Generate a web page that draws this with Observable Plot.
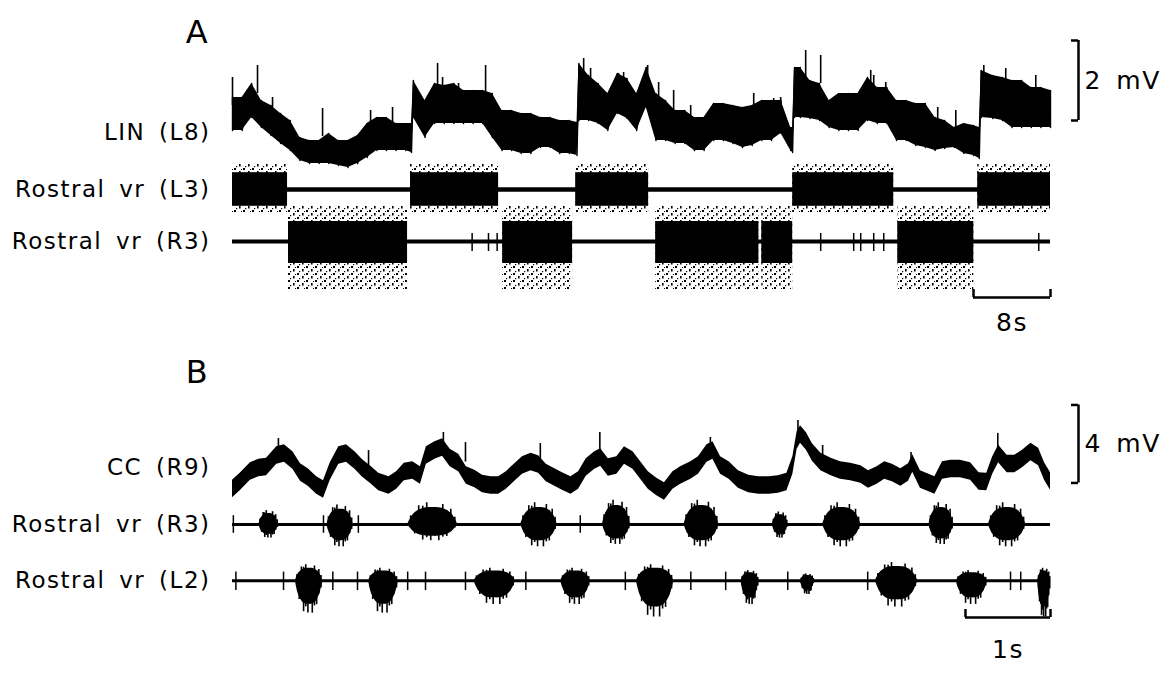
<!DOCTYPE html>
<html><head><meta charset="utf-8">
<script src="https://cdn.jsdelivr.net/npm/d3@7"></script>
<script src="https://cdn.jsdelivr.net/npm/@observablehq/plot@0.6"></script>
<style>
html,body{margin:0;padding:0;background:#fff;overflow:hidden;}
#chart{width:1174px;height:682px;}
#chart svg{display:block;}
</style></head>
<body><div id="chart"></div>
<script>
// ---------------- DATA: panel A (time in s, potential in mV) ----------------
const panelALabels = ["LIN (L8)", "Rostral vr (L3)", "Rostral vr (R3)"];
const linTime = [0,1,2,3,4,5,6,7,8,9, 10,11,12,13,14,15,16,17,18,18.6, 18.8,20,21,22,23,24,25,26,27,28,
  29,30,31,32,33,34,35,35.8,36,37, 38,39,40,41,42,43,44,45,46,47, 48,49,50,51,52,53,54,55,56,57,
  58,58.2,58.4,59,60,61,62,63,64,65, 66,67,68,69,70,71,72,73,74,75, 76,77,77.6,77.8,79,80,81,82,83,84, 85];
const linHigh = [1.575,1.575,1.925,1.5,1.375,1.175,1.0,0.575,0.5,0.5,
  0.675,0.5,0.5,0.625,0.925,1.075,1.075,0.925,0.925,0.925,
  2.0,1.5,1.925,1.875,1.925,1.75,1.75,1.75,1.675,1.25,
  1.25,1.175,1.175,1.075,1.075,1.0,1.0,0.95,2.425,2.125,
  1.925,1.675,2.175,2.05,1.675,2.325,1.675,1.5,1.25,1.25,
  1.075,1.075,1.425,1.425,1.375,1.325,1.375,1.5,1.5,1.5,
  0.825,0.825,2.325,2.325,2.0,1.925,1.5,1.675,1.675,1.675,
  2.075,1.825,1.825,1.5,1.5,1.425,1.425,1.075,1.0,0.825,
  0.925,0.875,0.825,2.25,2.125,2.075,2.0,2.0,1.825,1.825,
  1.75];
const linLow = [0.75,0.75,1.075,0.825,0.625,0.425,0.25,0.0,-0.075,-0.075,
  -0.075,-0.125,-0.175,-0.075,0.075,0.25,0.25,0.25,0.25,0.2,
  1.075,0.575,0.925,0.925,0.925,0.925,0.925,0.925,0.575,0.25,
  0.25,0.175,0.175,0.325,0.325,0.175,0.175,0.125,1.0,1.0,
  0.925,0.75,1.175,1.05,0.75,1.325,0.5,0.5,0.425,0.425,
  0.25,0.25,0.5,0.5,0.425,0.325,0.375,0.5,0.5,0.675,
  0.25,0.2,1.075,1.075,1.05,1.0,0.825,0.75,0.75,0.75,
  1.0,0.925,0.925,0.5,0.5,0.375,0.325,0.25,0.3,0.325,
  0.175,0.125,0.05,1.075,1.05,1.0,0.825,0.825,0.825,0.825,
  0.825];
const linSpikeTime = [0,2.6,4.16,9.36,14.35,16.63,21.31,21.83,23.49,26.3,36.49,37.21,40.12,40.64,43.14,44.28,45.84,47.61,
  54.16,56.24,56.96,59.56,61.12,66.32,66.63,67.88,73.28,75.16,78.07,80.35,83.47];
const linSpikeTop = [2.075,2.375,1.575,1.3,1.25,1.325,2.425,2.075,1.925,2.375,2.55,2.3,2.175,2.2,2.375,1.95,1.75,1.375,
  1.675,1.55,1.575,2.75,2.625,2.25,2.125,1.95,1.325,1.25,2.375,2.3,2.125];
const l3BurstStart = [0, 18.5, 35.66, 58.21, 77.44];
const l3BurstEnd   = [5.72, 27.65, 43.24, 68.71, 85];
const r3aBurstStart = [5.82, 28.07, 43.97, 55.0, 69.13];
const r3aBurstEnd   = [18.19, 35.34, 54.7, 58.21, 77.03];
const r3aSpikeTime = [24.9, 26.6, 27.5, 61.12, 64.55, 65.28, 66.63, 67.67, 83.78];
const panelADuration = 85, panelATimeBar = 8, panelAVoltBar = 2;

// ---------------- DATA: panel B ----------------
const panelBLabels = ["CC (R9)", "Rostral vr (R3)", "Rostral vr (L2)"];
const ccTime = [0,0.09,0.21,0.31,0.4,0.52,0.61,0.71,0.8,0.89, 0.99,1.07,1.15,1.25,1.34,1.44,1.53,1.62,1.72,1.84,
  1.93,2.02,2.12,2.21,2.28,2.38,2.47,2.56,2.66,2.75, 2.85,2.94,3.04,3.13,3.22,3.32,3.41,3.51,3.6,3.69,
  3.79,3.88,3.98,4.07,4.16,4.26,4.33,4.42,4.52,4.61, 4.71,4.8,4.89,4.99,5.08,5.18,5.27,5.39,5.48,5.58,
  5.65,5.74,5.84,5.95,6.07,6.19,6.31,6.42,6.52,6.59, 6.64,6.68,6.75,6.82,6.92,7.04,7.15,7.27,7.39,7.48,
  7.58,7.67,7.76,7.86,7.95,8.0,8.09,8.19,8.26,8.35, 8.45,8.56,8.68,8.78,8.87,8.94,9.01,9.11,9.2,9.29,
  9.39,9.48,9.55,9.62];
const ccValue = [0.59,0.95,1.49,1.67,1.72,2.31,2.41,2.05,1.44,1.18, 0.77,0.56,1.49,2.31,2.41,2.05,1.64,1.33,0.95,0.77,
  1.03,1.46,1.54,1.28,2.31,2.56,2.72,2.18,1.92,1.28, 1.10,0.85,0.77,0.77,1.03,1.44,1.79,1.97,1.85,1.41,
  1.18,0.97,0.77,1.03,1.69,2.05,2.21,1.69,1.79,2.31, 2.05,1.54,1.03,0.69,0.46,1.03,1.28,1.54,1.79,2.41,
  2.56,1.79,1.54,1.08,0.85,0.77,0.77,0.82,0.95,1.79, 3.08,3.38,3.03,2.46,1.97,1.72,1.54,1.46,1.33,1.08,
  1.28,1.54,1.41,1.18,1.44,1.90,1.08,0.90,0.77,1.54, 1.62,1.62,1.49,0.97,0.95,1.79,2.38,1.87,1.87,2.13,
  2.49,2.23,1.49,0.97];
const ccSpikeTime = [0.54,1.6,2.48,2.74,3.62,4.32,5.62,6.65,6.94,7.98,9.0];
const ccSpikeTop  = [3.18,2.56,3.49,2.97,2.92,3.49,3.23,4.10,2.82,2.46,3.44];
const r3bBurstStart = [0.31,1.11,2.06,3.39,4.35,5.31,6.35,6.94,8.19,8.89];
const r3bBurstEnd   = [0.54,1.42,2.65,3.82,4.68,5.72,6.53,7.39,8.48,9.33];
const r3bBurstUp    = [0.62,0.87,0.97,0.97,1.08,1.08,0.56,0.97,0.97,0.97];
const r3bBurstDown  = [0.56,0.92,0.67,0.92,0.82,0.92,0.56,0.92,0.82,0.92];
const r3bSpikeTime  = [0.01,1.07,1.48,4.09];
const l2BurstStart = [0.74,1.6,2.84,3.86,4.75,5.98,6.68,7.56,8.51,9.47];
const l2BurstEnd   = [1.06,1.95,3.33,4.21,5.19,6.19,6.84,8.06,8.88,9.62];
const l2BurstUp    = [0.72,0.56,0.56,0.56,0.72,0.46,0.31,0.82,0.46,0.56];
const l2BurstDown  = [1.33,1.33,0.97,0.97,1.49,0.97,0.56,1.08,0.97,1.49];
const l2SpikeTime  = [0.04,0.6,1.18,1.47,2.06,2.27,2.74,3.45,4.62,5.39,5.8,6.53,7.47,9.15,9.27];
const panelBDuration = 9.62, panelBTimeBar = 1, panelBVoltBar = 4;

// ---------------- LAYOUT ----------------
const W = 1174, H = 341, ML = 232, MR = 124;
const FONT = "DejaVu Sans, Verdana, sans-serif";
const txt = {fontFamily: FONT, fontSize: 23, fill: "black"};
const rowA = [0.7, -0.725, -2.025];
const rowB = [1.69, -1.23, -4.12];

function makeSpeckle(svg, id) {
  const ns = "http://www.w3.org/2000/svg";
  const defs = document.createElementNS(ns, "defs");
  const p = document.createElementNS(ns, "pattern");
  p.setAttribute("id", id); p.setAttribute("width", "9"); p.setAttribute("height", "7");
  p.setAttribute("patternUnits", "userSpaceOnUse");
  [[0,0,2,2],[5,3,1.6,2.5],[2,5,1.2,1.2],[7,1,1,1]].forEach(([x,y,w,h]) => {
    const r = document.createElementNS(ns, "rect");
    r.setAttribute("x", x); r.setAttribute("y", y); r.setAttribute("width", w); r.setAttribute("height", h);
    r.setAttribute("fill", "black"); p.appendChild(r);
  });
  defs.appendChild(p); svg.insertBefore(defs, svg.firstChild);
}

function timeBar(xEnd, len, yBar, tick, yText, label) {
  return [
    Plot.ruleY([yBar], {x1: xEnd - len, x2: xEnd, strokeWidth: 2.5}),
    Plot.ruleX([xEnd - len, xEnd], {y1: yBar, y2: yBar + tick, strokeWidth: 2.5}),
    Plot.text([label], {x: xEnd - len / 2, y: yText, text: d => d, ...txt, fontSize: 25})
  ];
}
function voltBar(xEnd, pxPerUnit, y0, y1, label) {
  const bx = xEnd + 28 / pxPerUnit, tx = xEnd + 21 / pxPerUnit;
  return [
    Plot.ruleX([bx], {y1: y0, y2: y1, strokeWidth: 2.5}),
    Plot.ruleY([y0, y1], {x1: tx, x2: bx, strokeWidth: 2.5}),
    Plot.text([label], {x: bx, y: (y0 + y1) / 2, dx: 6, text: d => d, textAnchor: "start", ...txt, fontSize: 25})
  ];
}
function labels(names, rows, letter, letterY) {
  return [
    Plot.text(names.map((n, i) => ({n, y: rows[i]})), {x: 0, y: "y", text: "n", textAnchor: "end", dx: -22, ...txt}),
    Plot.text([letter], {x: 0, y: letterY, text: d => d, dx: -35, ...txt, fontSize: 32})
  ];
}

// ---------------- PANEL A ----------------
const lin = linTime.map((t, i) => ({t, hi: linHigh[i], lo: linLow[i]}));
const linSaw = lin.flatMap(d => [{t: d.t, v: d.hi}, {t: d.t, v: d.lo}]);
const linSpikes = linSpikeTime.map((t, i) => ({t, top: linSpikeTop[i]}));
const l3 = l3BurstStart.map((s, i) => ({s, e: l3BurstEnd[i]}));
const r3a = r3aBurstStart.map((s, i) => ({s, e: r3aBurstEnd[i]}));
const pxA = (W - ML - MR) / panelADuration;

const plotA = Plot.plot({
  width: W, height: H, marginLeft: ML, marginRight: MR, marginTop: 0, marginBottom: 0,
  x: {domain: [0, panelADuration], axis: null},
  y: {domain: [-4.525, 4], axis: null},
  style: {background: "white", letterSpacing: "1.5px", wordSpacing: "5px"},
  marks: [
    Plot.areaY(lin, {x: "t", y1: "lo", y2: "hi", fill: "black"}),
    Plot.line(linSaw, {x: "t", y: "v", stroke: "black", strokeWidth: 1.4}),
    Plot.ruleX(linSpikes, {x: "t", y1: d => d.top, y2: d => d.top - 0.7, strokeWidth: 1.6}),
    Plot.rect(l3, {x1: "s", x2: "e", y1: rowA[1] - 0.6, y2: rowA[1] + 0.65, fill: "url(#speckleA)"}),
    Plot.rect(l3, {x1: "s", x2: "e", y1: rowA[1] - 0.42, y2: rowA[1] + 0.42, fill: "black"}),
    Plot.ruleY([rowA[1]], {x1: 0, x2: panelADuration, strokeWidth: 4.5}),
    Plot.rect(r3a, {x1: "s", x2: "e", y1: rowA[2] - 1.2, y2: rowA[2] + 0.9, fill: "url(#speckleA)"}),
    Plot.rect(r3a, {x1: "s", x2: "e", y1: rowA[2] - 0.55, y2: rowA[2] + 0.5, fill: "black"}),
    Plot.ruleY([rowA[2]], {x1: 0, x2: panelADuration, strokeWidth: 4}),
    Plot.ruleX(r3aSpikeTime, {y1: rowA[2] - 0.25, y2: rowA[2] + 0.2, strokeWidth: 1.5}),
    ...labels(panelALabels, rowA, "A", 3.2),
    ...timeBar(panelADuration, panelATimeBar, -3.425, 0.2, -4.05, "8s"),
    ...voltBar(panelADuration, pxA, 1, 1 + panelAVoltBar, "2 mV")
  ]
});
makeSpeckle(plotA, "speckleA");

// ---------------- PANEL B ----------------
const HW = 0.45;
const cc = ccTime.map((t, i) => ({t, v: ccValue[i]}));
const ccSpikes = ccSpikeTime.map((t, i) => ({t, top: ccSpikeTop[i]}));
const profT = [0, 0.12, 0.3, 0.5, 0.7, 0.88, 1], profA = [0, 0.55, 0.85, 0.9, 0.85, 0.55, 0];
const hairT = [0.06, 0.14, 0.22, 0.3, 0.38, 0.46, 0.54, 0.62, 0.7, 0.78, 0.86, 0.94];
const hairA = [0.7, 1.2, 0.95, 1.35, 1.05, 1.25, 0.9, 1.3, 1.1, 1.2, 0.85, 0.75];
function spindles(starts, ends, ups, downs, row) {
  const out = [];
  starts.forEach((s, i) => {
    const d = ends[i] - s;
    profT.forEach((f, k) => out.push({id: i, t: s + f * d, y1: row - downs[i] * profA[k], y2: row + ups[i] * profA[k]}));
  });
  return out;
}
function hairs(starts, ends, ups, downs, row) {
  const out = [];
  starts.forEach((s, i) => {
    const d = ends[i] - s;
    hairT.forEach((f, k) => {
      const env = Math.sin(Math.PI * f) ** 0.6;
      out.push({t: s + f * d, y1: row - downs[i] * env * hairA[k], y2: row + ups[i] * env * hairA[(k + 5) % hairA.length]});
    });
  });
  return out;
}
const r3bShapes = spindles(r3bBurstStart, r3bBurstEnd, r3bBurstUp, r3bBurstDown, rowB[1]);
const l2Shapes = spindles(l2BurstStart, l2BurstEnd, l2BurstUp, l2BurstDown, rowB[2]);
const r3bHairs = hairs(r3bBurstStart, r3bBurstEnd, r3bBurstUp, r3bBurstDown, rowB[1]);
const l2Hairs = hairs(l2BurstStart, l2BurstEnd, l2BurstUp, l2BurstDown, rowB[2]);
const pxB = (W - ML - MR) / panelBDuration;

const plotB = Plot.plot({
  width: W, height: H, marginLeft: ML, marginRight: MR, marginTop: 0, marginBottom: 0,
  x: {domain: [0, panelBDuration], axis: null},
  y: {domain: [-9.333, 8.154], axis: null},
  style: {background: "white", letterSpacing: "1.5px", wordSpacing: "5px"},
  marks: [
    Plot.areaY(cc, {x: "t", y1: d => d.v - HW, y2: d => d.v + HW, fill: "black"}),
    Plot.ruleX(ccSpikes, {x: "t", y1: d => d.top, y2: d => d.top - 1.0, strokeWidth: 1.6}),
    Plot.ruleY([rowB[1]], {x1: 0, x2: panelBDuration, strokeWidth: 3}),
    Plot.areaY(r3bShapes, {x: "t", y1: "y1", y2: "y2", z: "id", fill: "black", curve: "catmull-rom"}),
    Plot.ruleX(r3bHairs, {x: "t", y1: "y1", y2: "y2", strokeWidth: 1.6}),
    Plot.ruleX(r3bSpikeTime, {y1: rowB[1] - 0.45, y2: rowB[1] + 0.45, strokeWidth: 1.5}),
    Plot.ruleY([rowB[2]], {x1: 0, x2: panelBDuration, strokeWidth: 3}),
    Plot.areaY(l2Shapes, {x: "t", y1: "y1", y2: "y2", z: "id", fill: "black", curve: "catmull-rom"}),
    Plot.ruleX(l2Hairs, {x: "t", y1: "y1", y2: "y2", strokeWidth: 1.6}),
    Plot.ruleX(l2SpikeTime, {y1: rowB[2] - 0.5, y2: rowB[2] + 0.45, strokeWidth: 1.5}),
    ...labels(panelBLabels, rowB, "B", 6.56),
    ...timeBar(panelBDuration, panelBTimeBar, -6.0, 0.41, -7.69, "1s"),
    ...voltBar(panelBDuration, pxB, 0.9, 0.9 + panelBVoltBar, "4 mV")
  ]
});

document.getElementById("chart").append(plotA, plotB);
</script>
</body></html>
